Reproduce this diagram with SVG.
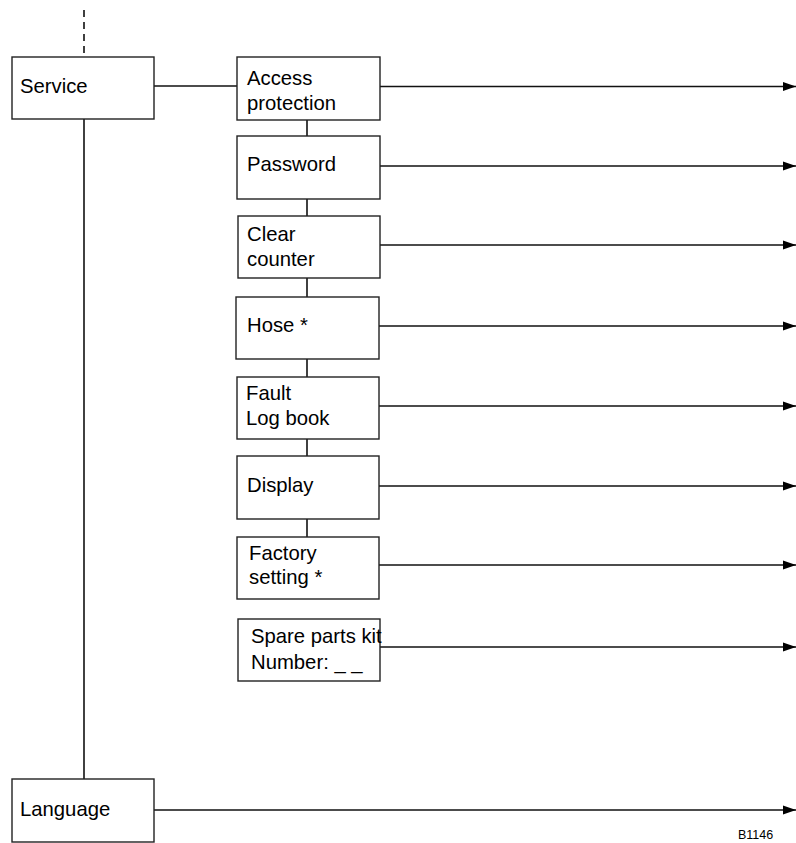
<svg xmlns="http://www.w3.org/2000/svg" width="796" height="843" viewBox="0 0 796 843">
<style>
.box{fill:#fff;stroke:#222;stroke-width:1.4}
.t{font-family:"Liberation Sans",Arial,sans-serif;font-size:20.3px;fill:#000}
.c{stroke:#111;stroke-width:1.6;fill:none}
.s{font-family:"Liberation Sans",Arial,sans-serif;font-size:12.5px;fill:#000}
</style>
<defs>
<marker id="ah" markerUnits="userSpaceOnUse" markerWidth="13" markerHeight="10" refX="13" refY="5" orient="auto">
<path d="M0,0.5 L13,5 L0,9.5 z" fill="#000"/>
</marker>
</defs>
<rect width="796" height="843" fill="#fff"/>
<g id="connectors">
<line class="c" x1="84" y1="10" x2="84" y2="57" stroke-dasharray="7,5"/>
<line class="c" x1="84" y1="119" x2="84" y2="779"/>
<line class="c" x1="154" y1="86" x2="237" y2="86"/>
<line class="c" x1="307" y1="120" x2="307" y2="136"/>
<line class="c" x1="307" y1="199" x2="307" y2="216"/>
<line class="c" x1="307" y1="278" x2="307" y2="297"/>
<line class="c" x1="307" y1="359" x2="307" y2="377"/>
<line class="c" x1="307" y1="439" x2="307" y2="456"/>
<line class="c" x1="307" y1="519" x2="307" y2="537"/>
<line class="c" x1="380" y1="86.5" x2="796" y2="86.5" marker-end="url(#ah)"/>
<line class="c" x1="380" y1="166" x2="796" y2="166" marker-end="url(#ah)"/>
<line class="c" x1="380" y1="245" x2="796" y2="245" marker-end="url(#ah)"/>
<line class="c" x1="379" y1="326" x2="796" y2="326" marker-end="url(#ah)"/>
<line class="c" x1="379" y1="406" x2="796" y2="406" marker-end="url(#ah)"/>
<line class="c" x1="379" y1="486" x2="796" y2="486" marker-end="url(#ah)"/>
<line class="c" x1="379" y1="565" x2="796" y2="565" marker-end="url(#ah)"/>
<line class="c" x1="380" y1="647" x2="796" y2="647" marker-end="url(#ah)"/>
<line class="c" x1="154" y1="810" x2="796" y2="810" marker-end="url(#ah)"/>
</g>
<g id="service"><rect class="box" x="12" y="57" width="142" height="62"/><text class="t" x="20" y="93">Service</text></g>
<g id="access"><rect class="box" x="237" y="57" width="143" height="63"/><text class="t" x="247" y="85">Access</text><text class="t" x="247" y="110">protection</text></g>
<g id="password"><rect class="box" x="237" y="136" width="143" height="63"/><text class="t" x="247" y="171">Password</text></g>
<g id="clear"><rect class="box" x="238" y="216" width="142" height="62"/><text class="t" x="247" y="241">Clear</text><text class="t" x="247" y="266">counter</text></g>
<g id="hose"><rect class="box" x="236" y="297" width="143" height="62"/><text class="t" x="247" y="332">Hose *</text></g>
<g id="fault"><rect class="box" x="237" y="377" width="142" height="62"/><text class="t" x="246" y="400">Fault</text><text class="t" x="246" y="425">Log book</text></g>
<g id="display"><rect class="box" x="237" y="456" width="142" height="63"/><text class="t" x="247" y="492">Display</text></g>
<g id="factory"><rect class="box" x="237" y="537" width="142" height="62"/><text class="t" x="249" y="560">Factory</text><text class="t" x="249" y="584">setting *</text></g>
<g id="spare"><rect class="box" x="238" y="619" width="142" height="62"/><text class="t" x="251" y="643">Spare parts kit</text><text class="t" x="251" y="669">Number: _ _</text></g>
<g id="language"><rect class="box" x="12" y="779" width="142" height="63"/><text class="t" x="20" y="816">Language</text></g>
<text class="s" x="738" y="839">B1146</text>
</svg>
